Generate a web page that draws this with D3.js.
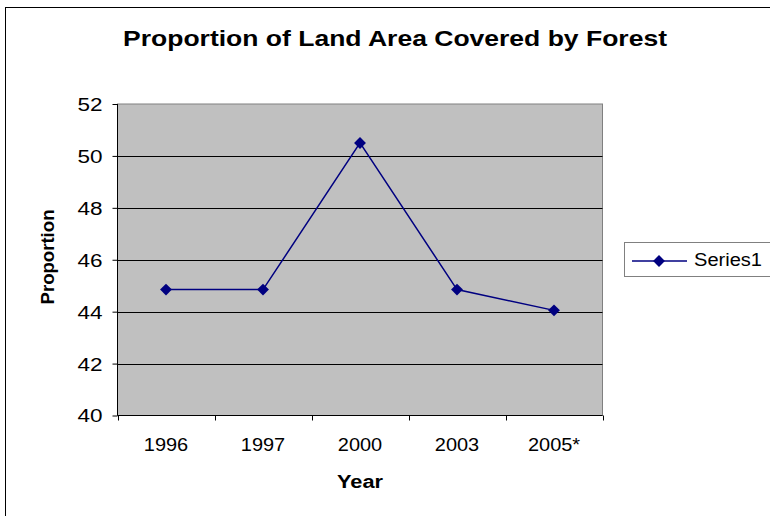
<!DOCTYPE html>
<html>
<head>
<meta charset="utf-8">
<title>Proportion of Land Area Covered by Forest</title>
<script src="https://d3js.org/d3.v7.min.js"></script>
<style>
  body { margin: 0; background: #fff; }
  text { font-family: "Liberation Sans", Arial, sans-serif; }
</style>
</head>
<body>
<svg id="chart" width="770" height="516"></svg>
<script>
  /* data */
  const years = ['1996', '1997', '2000', '2003', '2005*'];
  const proportion = [44.85, 44.85, 50.5, 44.85, 44.05];
  const yTicks = [40, 42, 44, 46, 48, 50, 52];
  const seriesName = 'Series1';

  const data = years.map((y, i) => ({ year: y, value: proportion[i] }));

  const plot = { left: 117.5, top: 104, right: 602.5, bottom: 415.5 };
  const navy = '#000080';
  const font = '"Liberation Sans", Arial, sans-serif';

  const svg = d3.select('#chart');

  // stretch text horizontally, like the scaled original
  function stretch(sel, f) {
    sel.each(function () {
      const w = this.getComputedTextLength();
      d3.select(this).attr('textLength', w * f).attr('lengthAdjust', 'spacingAndGlyphs');
    });
  }

  // outer chart frame
  svg.append('rect')
    .attr('x', 5.5).attr('y', 7.5)
    .attr('width', 780).attr('height', 520)
    .attr('fill', '#fff')
    .attr('stroke', '#000');

  const xScale = d3.scaleBand()
    .domain(years)
    .range([plot.left, plot.right]);

  const yScale = d3.scaleLinear()
    .domain([40, 52])
    .range([plot.bottom, plot.top]);

  // plot area
  svg.append('rect')
    .attr('x', plot.left).attr('y', plot.top)
    .attr('width', plot.right - plot.left)
    .attr('height', plot.bottom - plot.top)
    .attr('fill', '#c0c0c0')
    .attr('stroke', '#808080');

  // gridlines
  svg.append('g')
    .selectAll('line')
    .data(yTicks.filter(t => t > 40 && t < 52))
    .join('line')
    .attr('x1', plot.left).attr('x2', plot.right)
    .attr('y1', d => Math.round(yScale(d)) + 0.5)
    .attr('y2', d => Math.round(yScale(d)) + 0.5)
    .attr('stroke', '#000');

  /* Axes */
  const yAxis = d3.axisLeft(yScale)
    .tickValues(yTicks)
    .tickSize(5)
    .tickPadding(10);

  svg.append('g')
    .attr('class', 'y-axis')
    .attr('transform', `translate(${plot.left},0)`)
    .call(yAxis)
    .call(g => g.select('.domain').attr('stroke', '#000').attr('d', `M0,${plot.top}V${plot.bottom}`))
    .call(g => g.selectAll('.tick line').attr('stroke', '#000'))
    .call(g => g.selectAll('.tick text')
      .attr('font-size', 18).attr('fill', '#000').attr('dy', '0.36em')
      .style('font-family', font)
      .call(stretch, 1.25));

  const xAxis = d3.axisBottom(xScale)
    .tickSize(0);

  const xg = svg.append('g')
    .attr('class', 'x-axis')
    .attr('transform', `translate(0,${plot.bottom})`)
    .call(xAxis)
    .call(g => g.select('.domain').attr('stroke', '#000').attr('d', `M${plot.left},0H${plot.right}`))
    .call(g => g.selectAll('.tick text')
      .attr('y', 35.5).attr('dy', null)
      .attr('font-size', 19).attr('fill', '#000')
      .style('font-family', font)
      .call(stretch, 1.05));

  // category boundary ticks
  const bounds = years.map(y => xScale(y)).concat([plot.right]);
  xg.selectAll('.bound')
    .data(bounds)
    .join('line')
    .attr('class', 'bound')
    .attr('x1', d => Math.round(d) + 0.5).attr('x2', d => Math.round(d) + 0.5)
    .attr('y1', 0).attr('y2', 5)
    .attr('stroke', '#000');

  // series line
  const line = d3.line()
    .x(d => xScale(d.year) + xScale.bandwidth() / 2)
    .y(d => yScale(d.value));

  svg.append('path')
    .datum(data)
    .attr('d', line)
    .attr('fill', 'none')
    .attr('stroke', navy)
    .attr('stroke-width', 1.5);

  const diamond = d3.symbol().type(d3.symbolDiamond2).size(90);

  svg.append('g')
    .selectAll('path')
    .data(data)
    .join('path')
    .attr('d', diamond)
    .attr('transform', d => `translate(${xScale(d.year) + xScale.bandwidth() / 2},${yScale(d.value)})`)
    .attr('fill', navy);

  // title and axis labels
  svg.append('text')
    .attr('x', 395).attr('y', 46)
    .attr('text-anchor', 'middle')
    .attr('font-size', 22)
    .attr('font-weight', 'bold')
    .attr('textLength', 544)
    .attr('lengthAdjust', 'spacingAndGlyphs')
    .text('Proportion of Land Area Covered by Forest');

  svg.append('text')
    .attr('x', 360).attr('y', 488)
    .attr('text-anchor', 'middle')
    .attr('font-size', 17.5)
    .attr('font-weight', 'bold')
    .attr('textLength', 46)
    .attr('lengthAdjust', 'spacingAndGlyphs')
    .text('Year');

  svg.append('text')
    .attr('transform', 'translate(54,257) rotate(-90)')
    .attr('text-anchor', 'middle')
    .attr('font-size', 18)
    .attr('font-weight', 'bold')
    .attr('textLength', 95)
    .attr('lengthAdjust', 'spacingAndGlyphs')
    .text('Proportion');

  // legend
  const legend = svg.append('g');
  legend.append('rect')
    .attr('x', 624.5).attr('y', 242.5)
    .attr('width', 160).attr('height', 34)
    .attr('fill', '#fff')
    .attr('stroke', '#808080');
  legend.append('line')
    .attr('x1', 632).attr('x2', 687)
    .attr('y1', 261).attr('y2', 261)
    .attr('stroke', navy)
    .attr('stroke-width', 1.5);
  legend.append('path')
    .attr('d', diamond)
    .attr('transform', 'translate(659,261)')
    .attr('fill', navy);
  legend.append('text')
    .attr('x', 694).attr('y', 266)
    .attr('font-size', 18)
    .attr('textLength', 68)
    .attr('lengthAdjust', 'spacingAndGlyphs')
    .text(seriesName);
</script>
</body>
</html>
